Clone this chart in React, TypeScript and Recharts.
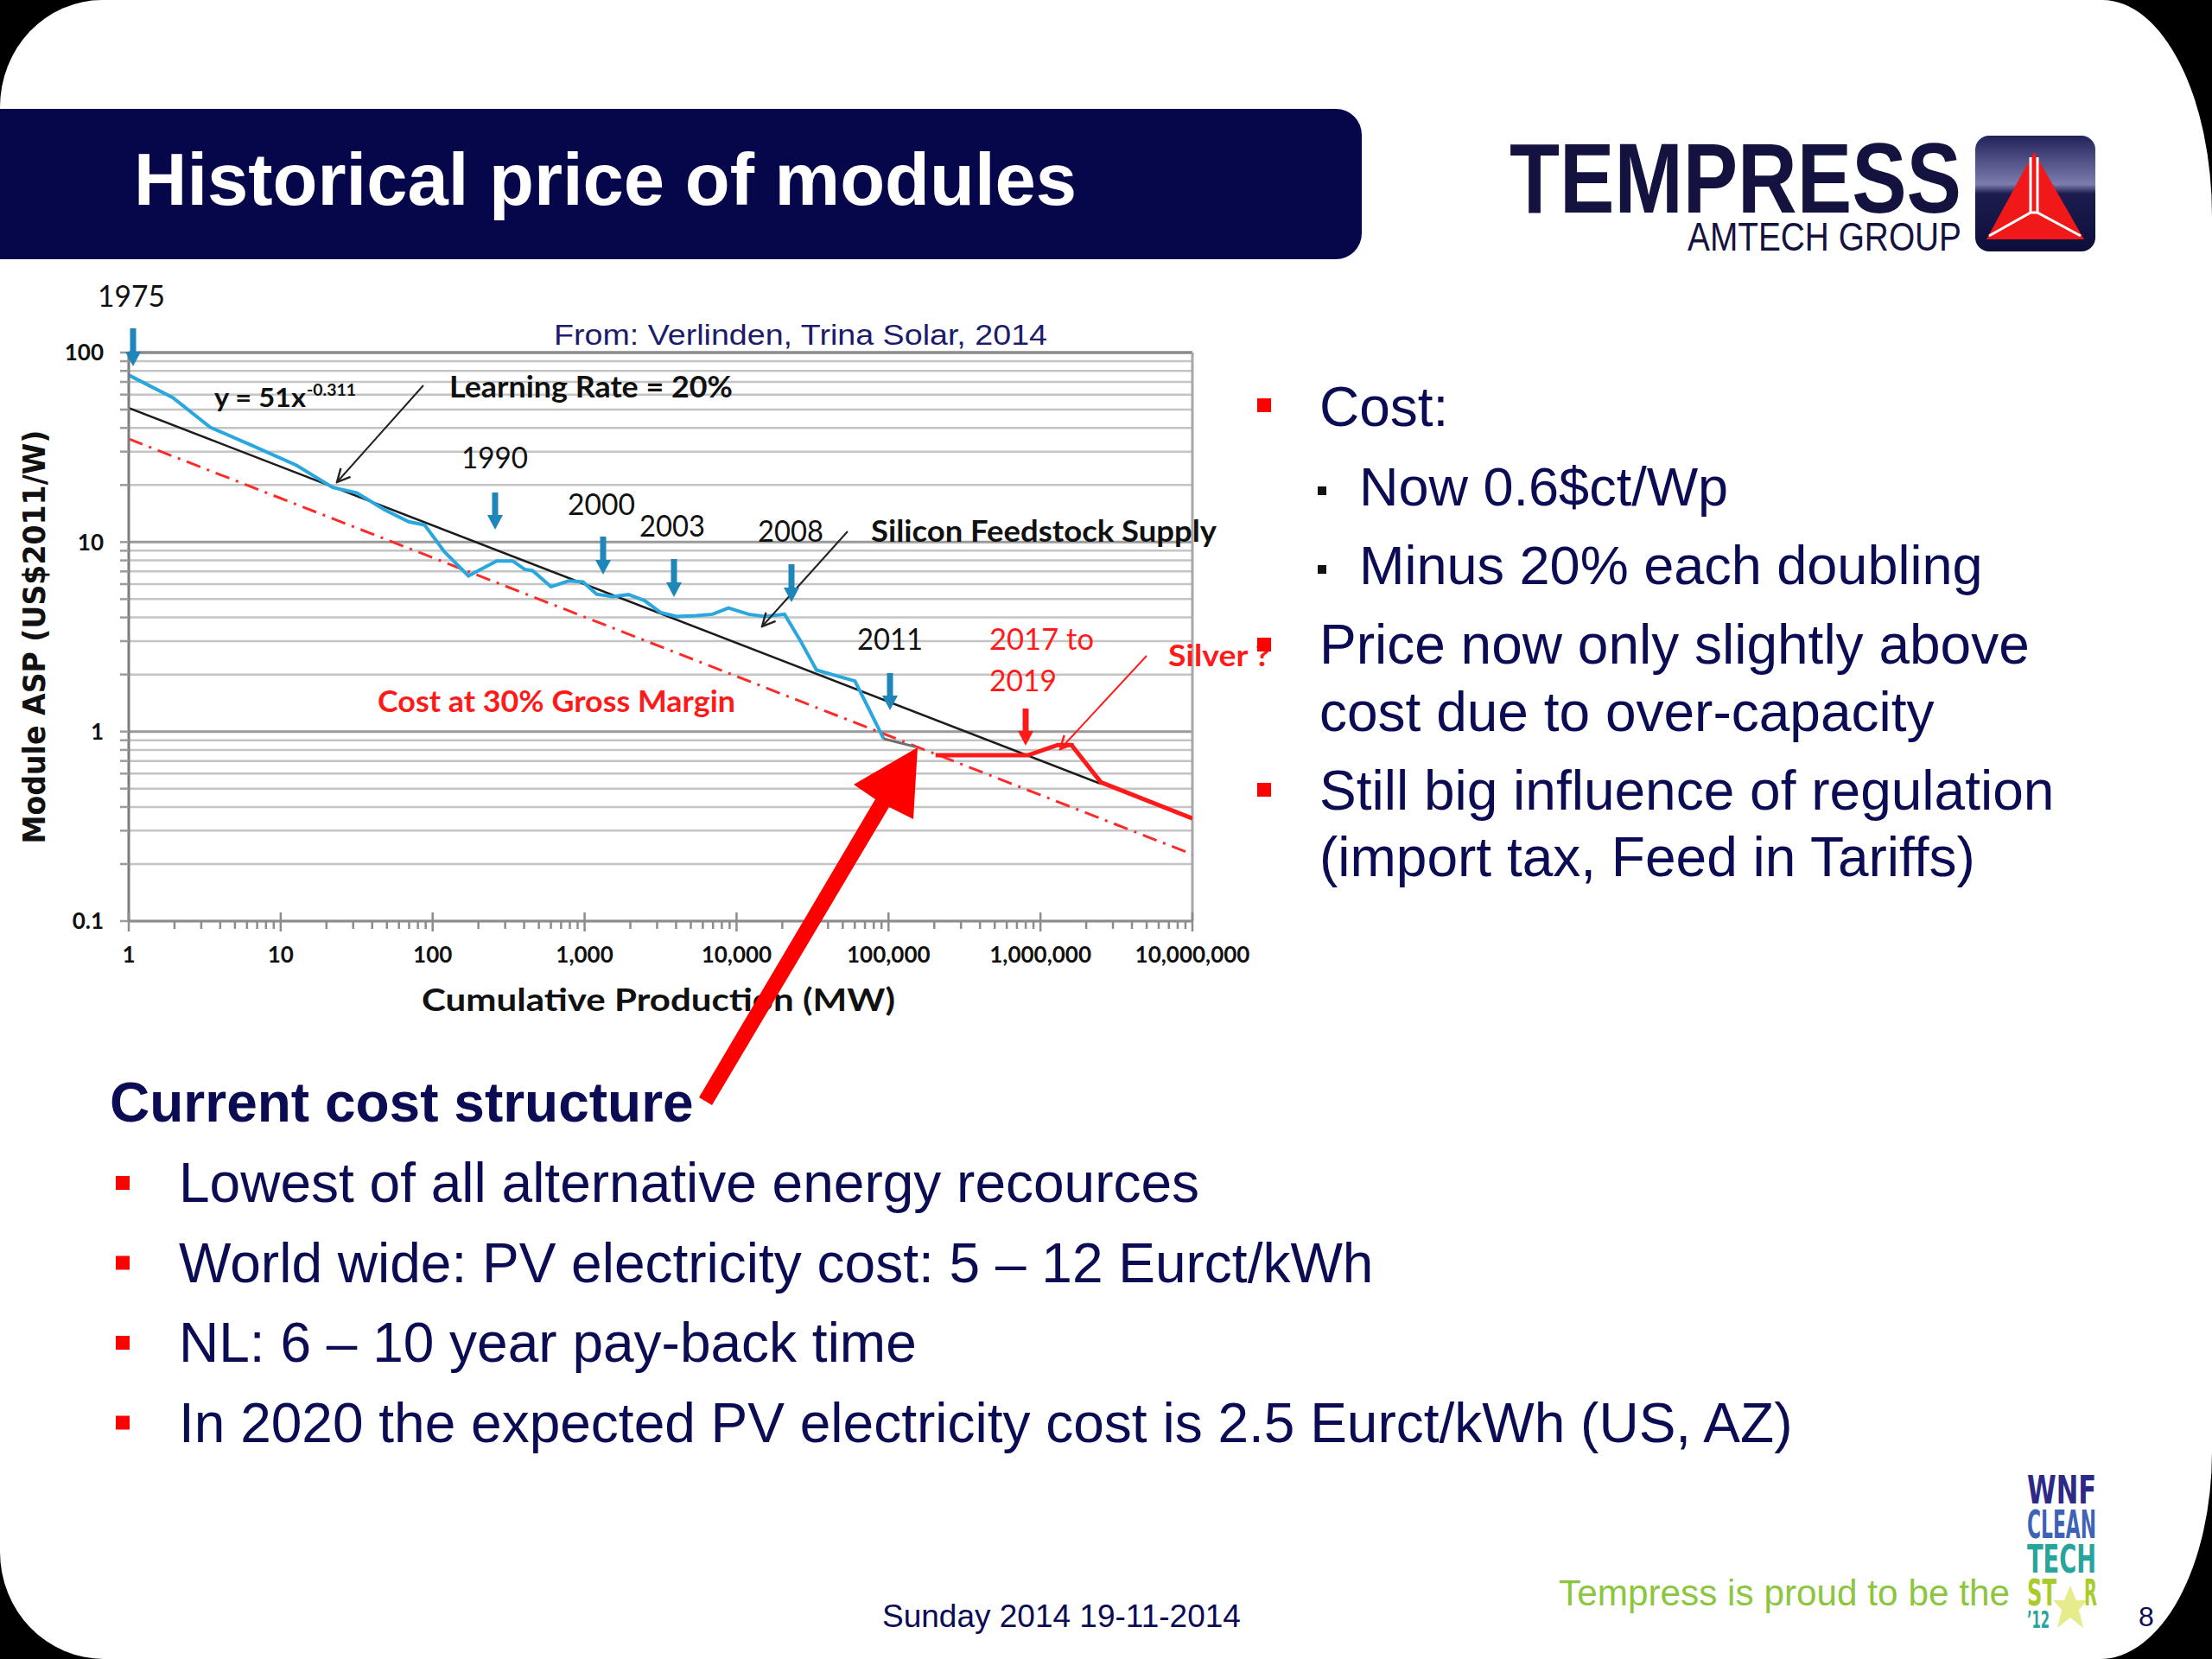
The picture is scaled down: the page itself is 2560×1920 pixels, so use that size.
import React from "react";
import { CartesianGrid, Line, LineChart, ReferenceLine, XAxis, YAxis } from "recharts";

// module price history (cumulative MW -> US$2011/W)
const historyMW = [1, 1.95, 3.44, 6.16, 12.7, 22, 31.6, 48.3, 69.5, 88.5, 120, 172, 207, 264, 336, 403, 455, 601, 785, 977, 1199, 1528, 1946, 2482, 3162, 4030, 5460, 6950, 8850, 12000, 15300, 20700, 26400, 33600, 45500, 60100, 73800, 93000];
const historyPrice = [76, 57.8, 40.3, 32.9, 25.4, 19.4, 18.2, 14.8, 12.8, 12.3, 8.85, 6.63, 7.18, 7.95, 7.95, 7.18, 7.06, 5.81, 6.24, 6.16, 5.31, 5.15, 5.28, 4.91, 4.25, 4.05, 4.09, 4.16, 4.49, 4.16, 4.05, 4.16, 3.0, 2.11, 1.97, 1.85, 1.33, 0.916];

const gapMW = [93000, 151000];
const gapPrice = [0.916, 0.83];

const forecastMW = [204000, 828000, 1300000, 1600000, 2500000, 10000000];
const forecastPrice = [0.75, 0.75, 0.85, 0.85, 0.54, 0.348];

const trendMW = [1, 2500000];
const trendPrice = [51, 0.53];

const marginMW = [1, 10000000];
const marginPrice = [35, 0.225];

const decadesX = [1, 10, 100, 1000, 10000, 100000, 1000000, 10000000];
const xTickLabels = ["1", "10", "100", "1,000", "10,000", "100,000", "1,000,000", "10,000,000"];
const decadesY = [0.1, 1, 10, 100];
const minorSteps = [1, 2, 3, 4, 5, 6, 7, 8, 9];

const costBullets = ["Lowest of all alternative energy recources", "World wide: PV electricity cost: 5 \u2013 12 Eurct/kWh", "NL: 6 \u2013 10 year pay-back time", "In 2020 the expected PV electricity cost is 2.5 Eurct/kWh (US, AZ)"];

const pairs = (xs: number[], ys: number[]) => xs.map((x, i) => ({ x, y: ys[i] }));

const xTicks = decadesX.slice(0, -1).flatMap((d) => minorSteps.map((k) => d * k)).concat([10000000]);
const yTicks = decadesY.slice(0, -1).flatMap((d) => minorSteps.map((k) => Number((d * k).toPrecision(2)))).concat([100]);

const chartFont = "Lato, 'Open Sans', sans-serif";
const slideFont = "'Liberation Sans', Arial, sans-serif";
const logoFont = "'DejaVu Sans Condensed', 'DejaVu Sans', sans-serif";
const navy = "#0c0c55";
const red = "#ff1a1a";
const blueArrow = "#1f86ba";

const XTick = (props: any) => {
  const { x, y, payload } = props;
  const i = decadesX.indexOf(payload.value);
  const major = i >= 0;
  return (
    <g>
      <line x1={x} x2={x} y1={major ? y - 10 : y} y2={y + (major ? 12 : 9)} stroke="#8c8c8c" strokeWidth={2.5} />
      {major && (
        <text x={x} y={y + 48} textAnchor="middle" fontSize={26} fontWeight={700} fontFamily={chartFont} fill="#111">
          {xTickLabels[i]}
        </text>
      )}
    </g>
  );
};

type TP = { x: number; y: number; s: number; c?: string; w?: number; f?: string; len?: number; anchor?: "start" | "middle" | "end"; children: React.ReactNode };
const T = ({ x, y, s, c = "#111", w = 400, f = chartFont, len, anchor = "start", children }: TP) => (
  <text x={x} y={y} fontSize={s} fill={c} fontWeight={w} fontFamily={f} textAnchor={anchor} textLength={len} lengthAdjust={len ? "spacingAndGlyphs" : undefined}>
    {children}
  </text>
);

const DownArrow = ({ x, y1, y2, color }: { x: number; y1: number; y2: number; color: string }) => (
  <g>
    <line x1={x} x2={x} y1={y1} y2={y2 - 14} stroke={color} strokeWidth={7} />
    <polygon points={`${x - 9},${y2 - 17} ${x + 9},${y2 - 17} ${x},${y2}`} fill={color} />
  </g>
);

const Slide = () => (
  <svg width={2560} height={1920} style={{ position: "absolute", left: 0, top: 0, pointerEvents: "none" }}>
    <defs>
      <marker id="openHead" viewBox="0 0 12 12" refX="11" refY="6" markerWidth="18" markerHeight="18" markerUnits="userSpaceOnUse" orient="auto">
        <path d="M1,1 L11,6 L1,11" fill="none" stroke="context-stroke" strokeWidth={1.6} />
      </marker>
      <linearGradient id="iconGrad" x1="0" y1="0" x2="0" y2="1">
        <stop offset="0" stopColor="#22225a" />
        <stop offset="0.42" stopColor="#7c7cae" />
        <stop offset="0.5" stopColor="#1c1c4e" />
        <stop offset="1" stopColor="#0e0e3c" />
      </linearGradient>
    </defs>

    {/* title bar */}
    <rect x={-40} y={126} width={1616} height={174} rx={30} fill="#06064b" />
    <T x={155} y={237} s={85} c="#ffffff" w={700} f={slideFont}>Historical price of modules</T>

    {/* logo */}
    <text fill="#14133f" fontFamily={slideFont}>
      <tspan x={1747} y={246} fontSize={115} fontWeight={700} textLength={523} lengthAdjust="spacingAndGlyphs">TEMPRESS</tspan>
      <tspan x={1953} y={290} fontSize={46} fontWeight={400} textLength={317} lengthAdjust="spacingAndGlyphs">AMTECH GROUP</tspan>
    </text>
    <rect x={2286} y={157} width={139} height={134} rx={16} fill="url(#iconGrad)" />
    <polygon points="2354,176 2299,277 2412,277" fill="#f01818" />
    <path d="M2350,182 L2350,246 L2302,273 M2358,182 L2358,246 L2408,273 M2350,246 L2358,246" stroke="#ffffff" strokeWidth={3} fill="none" />

    {/* chart annotations */}
    <T x={152} y={355} s={34} anchor="middle" len={78}>1975</T>
    <T x={641} y={399} s={33} c="#1c1c6a" f={slideFont} len={571}>From: Verlinden, Trina Solar, 2014</T>
    <T x={248} y={471} s={30} w={700} len={106}>y = 51x</T>
    <T x={355} y={458} s={19} w={700} len={57}>-0.311</T>
    <T x={520} y={460} s={34} w={700} len={328}>Learning Rate = 20%</T>
    <line x1={490} y1={446} x2={390} y2={558} stroke="#222" strokeWidth={2} markerEnd="url(#openHead)" />
    <T x={534} y={542} s={34} len={77}>1990</T>
    <T x={657} y={596} s={34} len={78}>2000</T>
    <T x={740} y={621} s={34} len={76}>2003</T>
    <T x={877} y={627} s={34} len={76}>2008</T>
    <T x={1008} y={627} s={34} w={700} len={400}>Silicon Feedstock Supply</T>
    <line x1={981} y1={615} x2={882} y2={725} stroke="#222" strokeWidth={2} markerEnd="url(#openHead)" />
    <T x={992} y={752} s={34} len={76}>2011</T>
    <T x={1145} y={752} s={34} c={red} len={121}>2017 to</T>
    <T x={1145} y={800} s={34} c={red} len={78}>2019</T>
    <T x={1352} y={771} s={34} c={red} w={700} len={118}>Silver ?</T>
    <line x1={1327} y1={759} x2={1227} y2={867} stroke={red} strokeWidth={2} markerEnd="url(#openHead)" />
    <T x={437} y={824} s={34} c={red} w={700} len={414}>Cost at 30% Gross Margin</T>

    <DownArrow x={154} y1={380} y2={424} color={blueArrow} />
    <DownArrow x={573} y1={570} y2={613} color={blueArrow} />
    <DownArrow x={698} y1={621} y2={665} color={blueArrow} />
    <DownArrow x={780} y1={647} y2={691} color={blueArrow} />
    <DownArrow x={916} y1={653} y2={697} color={blueArrow} />
    <DownArrow x={1030} y1={779} y2={822} color={blueArrow} />
    <DownArrow x={1187} y1={820} y2={863} color={red} />

    {/* axis titles */}
    <text transform="translate(52,737) rotate(-90)" textAnchor="middle" fontSize={35} fontWeight={700} fontFamily="'DejaVu Sans', sans-serif" fill="#111" textLength={479} lengthAdjust="spacingAndGlyphs">
      Module ASP (US$2011/W)
    </text>
    <T x={762} y={1170} s={36} w={700} anchor="middle" len={548}>Cumulative Production  (MW)</T>

    {/* right bullets */}
    <rect x={1455} y={461} width={16} height={16} fill="#ff0000" />
    <T x={1527} y={493} s={64} c={navy} f={slideFont}>Cost:</T>
    <rect x={1525} y={563} width={10} height={10} fill="#111" />
    <T x={1573} y={585} s={63} c={navy} f={slideFont}>Now 0.6$ct/Wp</T>
    <rect x={1525} y={654} width={10} height={10} fill="#111" />
    <T x={1573} y={676} s={63} c={navy} f={slideFont}>Minus 20% each doubling</T>
    <rect x={1455} y={738} width={16} height={16} fill="#ff0000" />
    <T x={1527} y={768} s={64} c={navy} f={slideFont}>Price now only slightly above</T>
    <T x={1527} y={846} s={64} c={navy} f={slideFont}>cost due to over-capacity</T>
    <rect x={1455} y={906} width={16} height={16} fill="#ff0000" />
    <T x={1527} y={937} s={64} c={navy} f={slideFont}>Still big influence of regulation</T>
    <T x={1527} y={1014} s={64} c={navy} f={slideFont}>(import tax, Feed in Tariffs)</T>

    {/* cost structure */}
    <T x={127} y={1298} s={64} c={navy} w={700} f={slideFont}>Current cost structure</T>
    {costBullets.map((b, i) => (
      <g key={b}>
        <rect x={134} y={1361 + i * 92.5} width={16} height={16} fill="#ff0000" />
        <T x={207} y={1391 + i * 92.5} s={64} c={navy} f={slideFont}>{b}</T>
      </g>
    ))}

    {/* big red arrow */}
    <polygon points="809,1270 824,1279 1029,934 1057,948 1062,865 988,908 1013,925" fill="#ff0000" />

    {/* footer */}
    <T x={1021} y={1883} s={37} c={navy} f={slideFont}>Sunday 2014 19-11-2014</T>
    <T x={1804} y={1858} s={42} c="#8cc63f" f={slideFont} len={522}>Tempress is proud to be the</T>
    <polygon points="2396,1835 2403,1852 2416,1852 2406,1863 2411,1884 2396,1872 2381,1884 2386,1863 2376,1852 2389,1852" fill="#e6eb8c" />
    <text fontFamily={logoFont} fontWeight={700}>
      <tspan x={2346} y={1740} fontSize={44} fill="#2c2a86" textLength={80} lengthAdjust="spacingAndGlyphs">WNF</tspan>
      <tspan x={2346} y={1780} fontSize={44} fill="#3f63b4" textLength={80} lengthAdjust="spacingAndGlyphs">CLEAN</tspan>
      <tspan x={2346} y={1820} fontSize={44} fill="#27a59b" textLength={80} lengthAdjust="spacingAndGlyphs">TECH</tspan>
      <tspan x={2346} y={1858} fontSize={42} fill="#a9cc2c" textLength={34} lengthAdjust="spacingAndGlyphs">ST</tspan>
      <tspan x={2412} y={1858} fontSize={42} fill="#a9cc2c" textLength={15} lengthAdjust="spacingAndGlyphs">R</tspan>
      <tspan x={2346} y={1884} fontSize={26} fill="#27a59b" textLength={26} lengthAdjust="spacingAndGlyphs">{"\u201912"}</tspan>
    </text>
    <T x={2484} y={1882} s={32} c={navy} f={slideFont} anchor="middle">8</T>
  </svg>
);

export default function App() {
  return (
    <div style={{ position: "absolute", left: 0, top: 0, width: 2560, height: 1920, background: "#000", overflow: "hidden" }}>
      <div style={{ position: "absolute", inset: 0, background: "#fff", borderRadius: "118px 127px 130px 120px / 124px 250px 240px 124px" }} />
      <div style={{ position: "absolute", left: 0, top: 0 }}>
        <LineChart width={1500} height={1300} margin={{ top: 408, right: 120, bottom: 194, left: 89 }}>
          <CartesianGrid horizontal vertical={false} stroke="#c4c4c4" strokeWidth={2.5} />
          <XAxis
            type="number"
            dataKey="x"
            scale="log"
            domain={[1, 10000000]}
            allowDataOverflow
            ticks={xTicks}
            interval={0}
            height={40}
            tick={<XTick />}
            tickLine={false}
            tickSize={0}
            tickMargin={0}
            axisLine={{ stroke: "#8c8c8c", strokeWidth: 3 }}
          />
          <YAxis
            type="number"
            dataKey="y"
            scale="log"
            domain={[0.1, 100]}
            allowDataOverflow
            ticks={yTicks}
            interval={0}
            width={60}
            tickLine={{ stroke: "#9b9b9b", strokeWidth: 2.5 }}
            tickSize={10}
            tickMargin={19}
            tickFormatter={(v: number) => (decadesY.includes(v) ? String(v) : "")}
            tick={{ fill: "#111", fontSize: 26, fontWeight: 700, fontFamily: chartFont }}
            axisLine={{ stroke: "#7c7c7c", strokeWidth: 3 }}
          />
          <ReferenceLine y={1} stroke="#9b9b9b" strokeWidth={3} />
          <ReferenceLine y={10} stroke="#9b9b9b" strokeWidth={3} />
          <ReferenceLine y={100} stroke="#8c8c8c" strokeWidth={3.5} />
          <ReferenceLine x={10000000} stroke="#a8a8a8" strokeWidth={3} />
          <Line data={pairs(marginMW, marginPrice)} dataKey="y" stroke="#ff2a2a" strokeWidth={3} strokeDasharray="17 8 3 8" dot={false} isAnimationActive={false} />
          <Line data={pairs(trendMW, trendPrice)} dataKey="y" stroke="#1c1c1c" strokeWidth={2.5} dot={false} isAnimationActive={false} />
          <Line data={pairs(historyMW, historyPrice)} dataKey="y" stroke="#2aa7df" strokeWidth={4} dot={false} isAnimationActive={false} />
          <Line data={pairs(gapMW, gapPrice)} dataKey="y" stroke="#6e6e6e" strokeWidth={3} dot={false} isAnimationActive={false} />
          <Line data={pairs(forecastMW, forecastPrice)} dataKey="y" stroke={red} strokeWidth={5} dot={false} isAnimationActive={false} />
        </LineChart>
      </div>
      <Slide />
    </div>
  );
}
